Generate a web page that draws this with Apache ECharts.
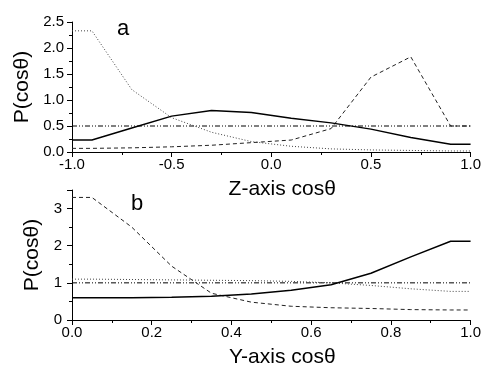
<!DOCTYPE html>
<html>
<head>
<meta charset="utf-8">
<script src="https://cdn.jsdelivr.net/npm/echarts@6/dist/echarts.min.js"></script>
<style>
  html, body { margin: 0; padding: 0; background: #fff; }
  #main { width: 484px; height: 375px; }
</style>
</head>
<body>
<div id="main"></div>
<script>
  // panel a : Z-axis
  var xTop = [-1.0, -0.9, -0.7, -0.5, -0.3, -0.1, 0.1, 0.3, 0.5, 0.7, 0.9, 1.0];
  var topSolid = [0.23, 0.23, 0.46, 0.69, 0.80, 0.76, 0.65, 0.56, 0.44, 0.28, 0.15, 0.15];
  var topDash = [0.07, 0.07, 0.08, 0.10, 0.13, 0.18, 0.23, 0.45, 1.44, 1.83, 0.50, 0.50];
  var topDot = [2.33, 2.33, 1.20, 0.66, 0.38, 0.20, 0.11, 0.06, 0.04, 0.03, 0.02, 0.02];
  var topRefX = [-1.0, 1.0];
  var topRef = [0.5, 0.5];

  // panel b : Y-axis
  var xBot = [0.0, 0.05, 0.15, 0.25, 0.35, 0.45, 0.55, 0.65, 0.75, 0.85, 0.95, 1.0];
  var botSolid = [0.60, 0.60, 0.60, 0.61, 0.64, 0.70, 0.80, 0.95, 1.26, 1.70, 2.12, 2.12];
  var botDash = [3.30, 3.30, 2.50, 1.45, 0.72, 0.48, 0.37, 0.33, 0.31, 0.28, 0.27, 0.27];
  var botDot = [1.10, 1.10, 1.09, 1.08, 1.07, 1.06, 1.04, 1.00, 0.93, 0.84, 0.77, 0.77];
  var botRefX = [0.0, 1.0];
  var botRef = [1.0, 1.0];

  function pairs(xs, ys) {
    return xs.map(function (x, i) { return [x, ys[i]]; });
  }

  var font = 'Liberation Sans, Arial, sans-serif';

  function xAxisCfg(idx, min, max, interval, name, digits) {
    return {
      gridIndex: idx,
      type: 'value',
      min: min, max: max, interval: interval,
      name: name,
      nameLocation: 'middle',
      nameGap: 27,
      nameTextStyle: { fontSize: 21, color: '#000', fontFamily: font, padding: [0, 0, 0, 22] },
      axisLine: { onZero: false, lineStyle: { color: '#000', width: 1 } },
      axisTick: { show: true, length: 5, lineStyle: { color: '#000' } },
      minorTick: { show: true, splitNumber: 2, length: 3, lineStyle: { color: '#000' } },
      splitLine: { show: false },
      axisLabel: {
        color: '#000', fontSize: 15, fontFamily: font, margin: 5,
        formatter: function (v) { return v.toFixed(digits); }
      }
    };
  }

  function yAxisCfg(idx, min, max, interval, digits, gap, margin) {
    return {
      gridIndex: idx,
      type: 'value',
      min: min, max: max, interval: interval,
      name: 'P(cosθ)',
      nameLocation: 'middle',
      nameGap: gap,
      nameTextStyle: { fontSize: 21, color: '#000', fontFamily: font },
      axisLine: { show: true, onZero: false, lineStyle: { color: '#000', width: 1 } },
      axisTick: { show: true, length: 5, lineStyle: { color: '#000' } },
      minorTick: { show: true, splitNumber: 2, length: 3, lineStyle: { color: '#000' } },
      splitLine: { show: false },
      axisLabel: {
        color: '#000', fontSize: 15, fontFamily: font, margin: margin,
        formatter: function (v) {
          // skip the bare top end (3.5) on panel b
          if (digits === 0 && Math.round(v) !== v) return '';
          return v.toFixed(digits);
        }
      }
    };
  }

  function line(idx, data, color, width, type) {
    return {
      type: 'line',
      xAxisIndex: idx, yAxisIndex: idx,
      data: data,
      showSymbol: false,
      symbol: 'none',
      animation: false,
      silent: true,
      lineStyle: { color: color, width: width, type: type }
    };
  }

  var myChart = echarts.init(document.getElementById('main'));
  var option = {
    backgroundColor: '#fff',
    animation: false,
    grid: [
      { left: 72, right: 12, top: 22, height: 130 },
      { left: 72, right: 12, top: 190, height: 130 }
    ],
    xAxis: [
      xAxisCfg(0, -1, 1, 0.5, 'Z-axis cosθ', 1),
      xAxisCfg(1, 0, 1, 0.2, 'Y-axis cosθ', 1)
    ],
    yAxis: [
      yAxisCfg(0, 0, 2.5, 0.5, 1, 31, 8),
      yAxisCfg(1, 0, 3.5, 1, 0, 19, 10)
    ],
    graphic: [
      { type: 'text', left: 117, top: 18, style: { text: 'a', fontSize: 22, fontFamily: font, fill: '#000' } },
      { type: 'text', left: 131, top: 193, style: { text: 'b', fontSize: 22, fontFamily: font, fill: '#000' } }
    ],
    series: [
      line(0, pairs(topRefX, topRef), '#000', 1, [5, 2, 1, 2, 1, 2]),
      line(0, pairs(xTop, topDot), '#444', 1, [1, 2]),
      line(0, pairs(xTop, topDash), '#222', 1, [4, 3]),
      line(0, pairs(xTop, topSolid), '#000', 1.5, 'solid'),
      line(1, pairs(botRefX, botRef), '#000', 1, [5, 2, 1, 2, 1, 2]),
      line(1, pairs(xBot, botDot), '#444', 1, [1, 2]),
      line(1, pairs(xBot, botDash), '#222', 1, [4, 3]),
      line(1, pairs(xBot, botSolid), '#000', 1.5, 'solid')
    ]
  };
  myChart.setOption(option);
</script>
</body>
</html>
